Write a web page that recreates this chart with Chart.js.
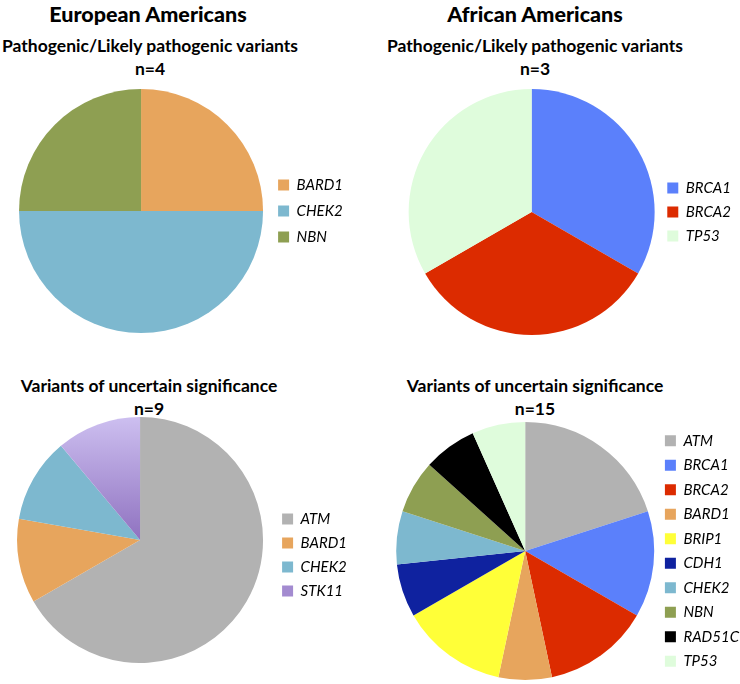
<!DOCTYPE html>
<html>
<head>
<meta charset="utf-8">
<script src="https://cdn.jsdelivr.net/npm/chart.js@4.4.0/dist/chart.umd.min.js"></script>
<style>
  body { margin: 0; background: #fff; width: 740px; height: 684px; position: relative; overflow: hidden; font-family: Lato, 'Open Sans', sans-serif; }
  .head { position: absolute; font-weight: 900; font-size: 21.5px; color: #000; text-align: center; }
  .sub { position: absolute; font-weight: bold; font-size: 17.5px; color: #000; text-align: center; line-height: 23px; }
  .box { position: absolute; }
</style>
</head>
<body>
<div class="head" style="left:0; top:1px; width:296px;">European Americans</div>
<div class="head" style="left:387px; top:1px; width:296px;">African Americans</div>

<div class="sub" style="left:0; top:34px; width:300px;">Pathogenic/Likely pathogenic variants<br>n=4</div>
<div class="sub" style="left:385px; top:34px; width:300px;">Pathogenic/Likely pathogenic variants<br>n=3</div>
<div class="sub" style="left:0; top:374px; width:298px;">Variants of uncertain significance<br>n=9</div>
<div class="sub" style="left:385px; top:374px; width:300px;">Variants of uncertain significance<br>n=15</div>

<div class="box" style="left:15px; top:89px; width:338px; height:244px;"><canvas id="eaPath"></canvas></div>
<div class="box" style="left:405px; top:89px; width:336px; height:246px;"><canvas id="aaPath"></canvas></div>
<div class="box" style="left:7px; top:417px; width:350px; height:246px;"><canvas id="eaVus"></canvas></div>
<div class="box" style="left:395px; top:422px; width:354px; height:258px;"><canvas id="aaVus"></canvas></div>

<script>
// European Americans - pathogenic / likely pathogenic (n=4)
const eaPathGenes = ['BARD1', 'CHEK2', 'NBN'];
const eaPathCounts = [1, 2, 1];

// African Americans - pathogenic / likely pathogenic (n=3)
const aaPathGenes = ['BRCA1', 'BRCA2', 'TP53'];
const aaPathCounts = [1, 1, 1];

// European Americans - VUS (n=9)
const eaVusGenes = ['ATM', 'BARD1', 'CHEK2', 'STK11'];
const eaVusCounts = [6, 1, 1, 1];

// African Americans - VUS (n=15)
const aaVusGenes = ['ATM', 'BRCA1', 'BRCA2', 'BARD1', 'BRIP1', 'CDH1', 'CHEK2', 'NBN', 'RAD51C', 'TP53'];
const aaVusCounts = [3, 2, 2, 1, 2, 1, 1, 1, 1, 1];

const geneColors = {
    ATM: '#b2b2b2',
    BRCA1: '#5b80fb',
    BRCA2: '#dc2b00',
    BARD1: '#e7a55d',
    BRIP1: '#ffff38',
    CDH1: '#0f229f',
    CHEK2: '#7db8cf',
    NBN: '#8e9f52',
    RAD51C: '#000000',
    TP53: '#dffcdc',
    STK11: '#b09bd9'
};

// STK11 slice has a purple gradient going darker towards the centre
function sliceColor(context) {
    const gene = context.chart.data.labels[context.dataIndex];
    if (gene !== 'STK11') return geneColors[gene];
    const area = context.chart.chartArea;
    if (!area) return geneColors[gene];
    const midY = (area.top + area.bottom) / 2;
    const g = context.chart.ctx.createLinearGradient(0, area.top, 0, midY);
    g.addColorStop(0, '#cdbff0');
    g.addColorStop(1, '#8f72c0');
    return g;
}

// legendShift pushes the legend items down (via an empty legend title)
function makePie(id, genes, counts, itemPadding, legendShift) {
    const ctx = document.getElementById(id).getContext('2d');
    return new Chart(ctx, {
        type: 'pie',
        data: {
            labels: genes,
            datasets: [{
                data: counts,
                backgroundColor: sliceColor,
                borderWidth: 0
            }]
        },
        options: {
            responsive: true,
            maintainAspectRatio: false,
            animation: false,
            layout: { padding: 0 },
            plugins: {
                tooltip: { enabled: false },
                legend: {
                    position: 'right',
                    align: 'center',
                    title: {
                        display: legendShift > 0,
                        text: ' ',
                        color: '#000',
                        font: { size: 10 },
                        padding: { top: 0, bottom: Math.max(0, legendShift * 2 - 12) }
                    },
                    labels: {
                        boxWidth: 11,
                        boxHeight: 11,
                        padding: itemPadding,
                        color: '#000',
                        font: { family: 'Lato', size: 15, style: 'italic' },
                        generateLabels: function(chart) {
                            return chart.data.labels.map(function(gene, i) {
                                return {
                                    text: gene,
                                    fillStyle: gene === 'STK11' ? '#a38bd0' : geneColors[gene],
                                    strokeStyle: 'rgba(0,0,0,0)',
                                    fontColor: '#000',
                                    lineWidth: 0,
                                    hidden: false,
                                    index: i
                                };
                            });
                        }
                    }
                }
            }
        }
    });
}

makePie('eaPath', eaPathGenes, eaPathCounts, 11, 0);
makePie('aaPath', aaPathGenes, aaPathCounts, 9, 0);
makePie('eaVus', eaVusGenes, eaVusCounts, 9, 15);
makePie('aaVus', aaVusGenes, aaVusCounts, 9.5, 0);
</script>
</body>
</html>
